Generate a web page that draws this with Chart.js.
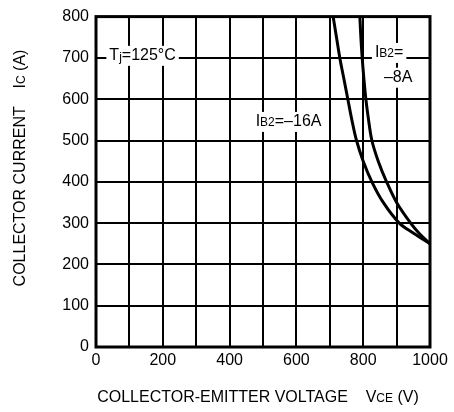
<!DOCTYPE html>
<html>
<head>
<meta charset="utf-8">
<script src="https://cdn.jsdelivr.net/npm/chart.js@4"></script>
<style>
  html, body { margin: 0; padding: 0; background: #fff; }
  #wrap { width: 454px; height: 412px; }
</style>
</head>
<body>
<div id="wrap"><canvas id="vceChart" width="454" height="412"></canvas></div>
<script>
// (V, A)
const vce16 = [710, 720, 730, 742, 754, 766, 780, 800, 826, 860, 908, 952, 1000];
const ic16 = [800, 750, 700, 650, 600, 550, 500, 450, 400, 350, 300, 275, 250];
const vce8 = [790, 793, 797, 802, 808, 816, 826, 845, 870, 900, 942, 968, 1000];
const ic8 = [800, 750, 700, 650, 600, 550, 500, 450, 400, 350, 300, 275, 250];
const xTicks = [0, 200, 400, 600, 800, 1000];
const yTicks = [0, 100, 200, 300, 400, 500, 600, 700, 800];

const FONT = '"Liberation Sans", Arial, sans-serif';

function toPoints(xs, ys) {
    return xs.map((x, i) => ({ x: x, y: ys[i] }));
}

// draws text like "I" + small "B2" + "=-16A"
function drawParts(ctx, parts, x, y, align) {
    let total = 0;
    parts.forEach(p => {
        ctx.font = p.size + 'px ' + FONT;
        total += ctx.measureText(p.t).width;
    });
    let cx = align === 'center' ? x - total / 2 : x;
    ctx.textAlign = 'left';
    parts.forEach(p => {
        ctx.font = p.size + 'px ' + FONT;
        ctx.fillText(p.t, cx, y + (p.dy || 0));
        cx += ctx.measureText(p.t).width;
    });
    return total;
}

function labelBox(ctx, parts, x, y) {
    let w = 0;
    parts.forEach(p => {
        ctx.font = p.size + 'px ' + FONT;
        w += ctx.measureText(p.t).width;
    });
    ctx.fillStyle = '#fff';
    ctx.fillRect(x - 3, y - 10, w + 6, 20);
    ctx.fillStyle = '#000';
    ctx.textBaseline = 'middle';
    drawParts(ctx, parts, x, y, 'left');
}

const annotations = {
    id: 'annotations',
    beforeDatasetsDraw(chart) {
        const ctx = chart.ctx;
        const xs = chart.scales.x, ys = chart.scales.y;
        ctx.save();
        labelBox(ctx, [{ t: 'T', size: 16 }, { t: 'j', size: 12, dy: 2 }, { t: '=125°C', size: 16 }],
            xs.getPixelForValue(40), ys.getPixelForValue(705));
        labelBox(ctx, [{ t: 'I', size: 16 }, { t: 'B2', size: 12, dy: 1 }, { t: '=–16A', size: 16 }],
            xs.getPixelForValue(478), ys.getPixelForValue(545));
        labelBox(ctx, [{ t: 'I', size: 16 }, { t: 'B2', size: 12, dy: 1 }, { t: '=', size: 16 }],
            xs.getPixelForValue(835), ys.getPixelForValue(712));
        labelBox(ctx, [{ t: '–8A', size: 16 }],
            xs.getPixelForValue(862), ys.getPixelForValue(652));
        ctx.restore();
    },
    afterDraw(chart) {
        const ctx = chart.ctx;
        const a = chart.chartArea;
        ctx.save();
        ctx.strokeStyle = '#000';
        ctx.lineWidth = 3;
        ctx.strokeRect(a.left, a.top, a.right - a.left, a.bottom - a.top);

        // axis titles
        ctx.fillStyle = '#000';
        ctx.textBaseline = 'middle';
        drawParts(ctx, [{ t: 'COLLECTOR-EMITTER VOLTAGE    V', size: 16 }, { t: 'CE', size: 12, dy: 1 }, { t: ' (V)', size: 16 }],
            258, 398, 'center');
        ctx.translate(21, 168);
        ctx.rotate(-Math.PI / 2);
        drawParts(ctx, [{ t: 'COLLECTOR CURRENT    I', size: 16 }, { t: 'C', size: 12, dy: 1 }, { t: ' (A)', size: 16 }],
            0, 0, 'center');
        ctx.restore();
    }
};

new Chart(document.getElementById('vceChart').getContext('2d'), {
    type: 'line',
    data: {
        datasets: [{
            label: 'IB2=-16A',
            data: toPoints(vce16, ic16),
            borderColor: '#000',
            borderWidth: 3,
            pointRadius: 0,
            tension: 0.35,
            fill: false
        }, {
            label: 'IB2=-8A',
            data: toPoints(vce8, ic8),
            borderColor: '#000',
            borderWidth: 3,
            pointRadius: 0,
            tension: 0.35,
            fill: false
        }]
    },
    options: {
        responsive: false,
        animation: false,
        layout: { padding: { top: 12, right: 24, left: 0, bottom: 0 } },
        plugins: {
            legend: { display: false },
            tooltip: { enabled: false }
        },
        scales: {
            x: {
                type: 'linear',
                min: 0,
                max: 1000,
                afterFit(scale) { scale.height = 65; },
                afterBuildTicks(scale) {
                    scale.ticks = [];
                    for (let v = 0; v <= 1000; v += 100) scale.ticks.push({ value: v });
                },
                ticks: {
                    autoSkip: false,
                    maxRotation: 0,
                    padding: 4,
                    color: '#000',
                    font: { family: FONT, size: 16 },
                    callback: v => xTicks.includes(v) ? String(v) : ''
                },
                grid: { color: '#000', lineWidth: 2, drawTicks: false },
                border: { display: false }
            },
            y: {
                type: 'linear',
                min: 0,
                max: 800,
                afterFit(scale) { scale.width = 96; },
                afterBuildTicks(scale) {
                    scale.ticks = yTicks.map(v => ({ value: v }));
                },
                ticks: {
                    autoSkip: false,
                    padding: 7,
                    color: '#000',
                    font: { family: FONT, size: 16 }
                },
                grid: { color: '#000', lineWidth: 2, drawTicks: false },
                border: { display: false }
            }
        }
    },
    plugins: [annotations]
});
</script>
</body>
</html>
